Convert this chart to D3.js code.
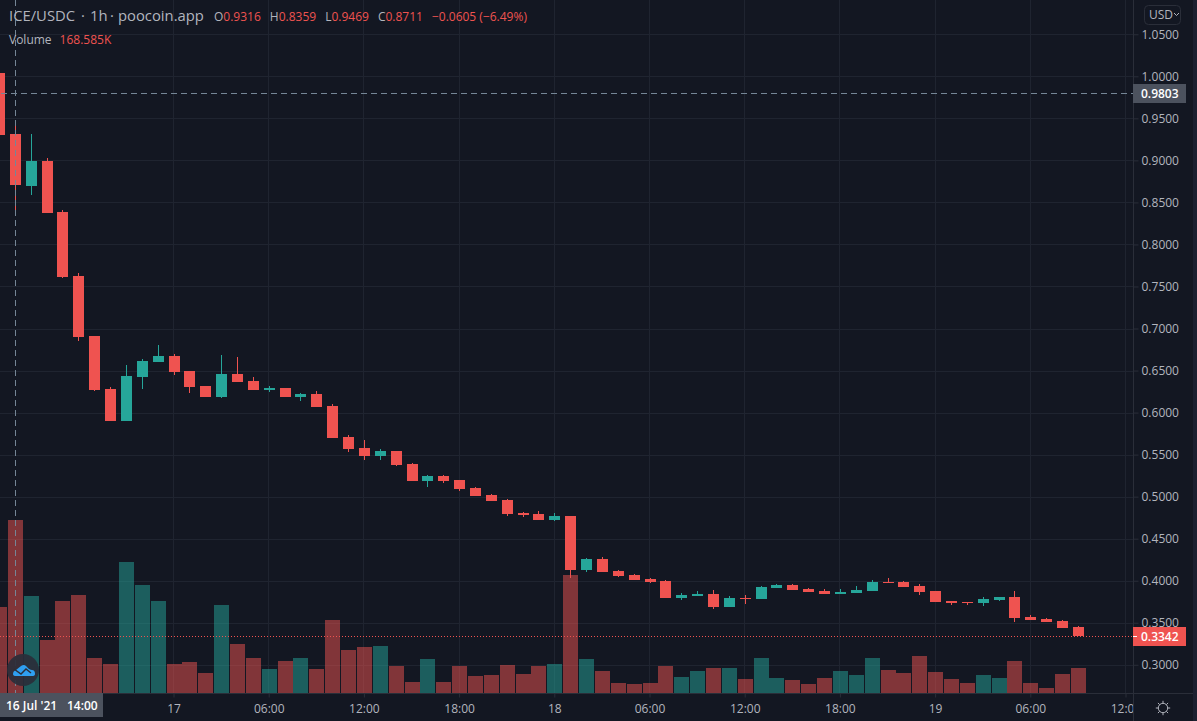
<!DOCTYPE html>
<html>
<head>
<meta charset="utf-8">
<script src="https://cdnjs.cloudflare.com/ajax/libs/d3/7.8.5/d3.min.js"></script>
<style>
  html, body { margin: 0; padding: 0; background: #131722; overflow: hidden; }
  svg { display: block; }
  text { font-family: "Open Sans", "Noto Sans", sans-serif; }
</style>
</head>
<body>
<svg width="1197" height="721"></svg>
<script>
// hourly candles, first one is 16 Jul 2021 13:00 UTC
var opens = [1.0036,.9316,.8692,.8989,.8382,.7621,.6907,.6277,.5896,.6420,.6598,.6669,.6491,.6313,.6182,.6455,.6372,.6265,.6289,.6182,.6217,.6075,.5706,.5575,.5480,.5539,.5385,.5183,.5242,.5195,.5099,.5016,.4957,.4802,.4790,.4719,.4766,.4124,.4255,.4112,.4065,.4017,.3993,.3791,.3815,.3838,.3684,.3791,.3779,.3910,.3946,.3898,.3874,.3838,.3850,.3874,.3981,.3981,.3934,.3874,.3755,.3743,.3731,.3767,.3803,.3565,.3541,.3517,.3446];
var highs = [1.0036,.9469,.9310,.9025,.8406,.7657,.6907,.6301,.6562,.6634,.6800,.6693,.6491,.6313,.6681,.6657,.6420,.6313,.6289,.6229,.6253,.6098,.5730,.5670,.5563,.5539,.5397,.5254,.5254,.5195,.5111,.5028,.4968,.4814,.4826,.4802,.4766,.4267,.4279,.4124,.4076,.4029,.4005,.3850,.3874,.3886,.3815,.3827,.3934,.3957,.3957,.3910,.3898,.3898,.3934,.4005,.4029,.3993,.3957,.3874,.3755,.3743,.3803,.3803,.3874,.3589,.3553,.3529,.3458];
var lows = [.9298,.8359,.8585,.8370,.7597,.6848,.6253,.5896,.5896,.6277,.6598,.6443,.6229,.6182,.6170,.6360,.6265,.6241,.6182,.6134,.6063,.5694,.5527,.5432,.5432,.5361,.5183,.5111,.5159,.5064,.5004,.4945,.4766,.4754,.4719,.4707,.4029,.4100,.4100,.4041,.4005,.3969,.3791,.3767,.3815,.3660,.3684,.3719,.3779,.3910,.3886,.3862,.3838,.3838,.3850,.3874,.3969,.3922,.3827,.3743,.3707,.3707,.3696,.3755,.3505,.3529,.3505,.3434,.3342];
var closes = [.9298,.8711,.8989,.8370,.7609,.6895,.6265,.5896,.6432,.6610,.6669,.6479,.6301,.6182,.6455,.6360,.6265,.6289,.6182,.6217,.6063,.5694,.5563,.5480,.5539,.5373,.5183,.5242,.5183,.5087,.5004,.4945,.4790,.4778,.4719,.4766,.4124,.4255,.4100,.4053,.4005,.3981,.3791,.3827,.3838,.3684,.3791,.3779,.3922,.3946,.3886,.3862,.3838,.3862,.3886,.3981,.3969,.3922,.3862,.3743,.3731,.3731,.3779,.3803,.3553,.3529,.3505,.3434,.3342];
var volumes = [83.8,168.585,94.5,51.6,89.7,95.5,34.1,28.3,127.7,105.2,89.7,28.3,30.2,19.5,85.8,47.8,34.1,23.4,31.2,34.1,23.4,71.1,41.9,44.8,45.8,26.3,10.7,33.1,10.7,26.3,16.6,17.5,27.3,18.5,26.3,28.3,115.0,33.1,21.4,9.7,8.8,9.7,26.3,15.6,21.4,24.4,24.4,13.6,34.1,14.6,12.7,8.8,14.6,21.4,17.5,34.1,22.4,19.5,36.1,20.5,13.6,9.7,17.5,14.6,31.2,9.7,4.9,18.5,24.4];

var priceTicks = [1.05,1,.95,.9,.85,.8,.75,.7,.65,.6,.55,.5,.45,.4,.35,.3];
var timeTicks = [0,6,12,18,24,30,36,42,48,54,60]; // hours after 17 Jul 00:00
var timeLabels = ["17","06:00","12:00","18:00","18","06:00","12:00","18:00","19","06:00","12:00"];

var crossHour = -10, crossPrice = 0.9803, lastPrice = 0.3342;

var red = "#ef5350", green = "#26a69a", gridColor = "#1f2430", axisColor = "#2a2e39", labelColor = "#b2b5be";

var svg = d3.select("svg");
var plotRight = 1134, plotBottom = 693;

var x = d3.scaleLinear().domain([0, 60]).range([173.5, 1125.5]);
var y = d3.scaleLinear().domain([1, 0.3]).range([76.3, 664.8]);
var v = d3.scaleLinear().domain([0, 168.585]).range([plotBottom, 520]);

function hourOf(i) { return i - 11; }
function isUp(i) { return closes[i] >= opens[i]; }
function cx(i) { return Math.round(x(hourOf(i))); }

svg.append("defs").append("clipPath").attr("id", "plot")
  .append("rect").attr("width", plotRight).attr("height", plotBottom);
svg.append("defs").append("clipPath").attr("id", "timeclip")
  .append("rect").attr("width", plotRight).attr("height", 721);

// grid
var grid = svg.append("g").attr("clip-path", "url(#plot)");
grid.selectAll(".gy").data(priceTicks).enter().append("line")
  .attr("x1", 0).attr("x2", plotRight)
  .attr("y1", function(d) { return Math.round(y(d)) + 0.5; })
  .attr("y2", function(d) { return Math.round(y(d)) + 0.5; })
  .attr("stroke", gridColor);
grid.selectAll(".gx").data(timeTicks).enter().append("line")
  .attr("x1", function(d) { return Math.floor(x(d)) + 0.5; })
  .attr("x2", function(d) { return Math.floor(x(d)) + 0.5; })
  .attr("y1", 0).attr("y2", plotBottom)
  .attr("stroke", gridColor);

var idx = d3.range(opens.length);

// volume
var plot = svg.append("g").attr("clip-path", "url(#plot)");
plot.selectAll(".vol").data(idx).enter().append("rect")
  .attr("x", function(i) { return cx(i) - 7; })
  .attr("width", 15)
  .attr("y", function(i) { return v(volumes[i]); })
  .attr("height", function(i) { return plotBottom - v(volumes[i]); })
  .attr("fill", function(i) { return isUp(i) ? green : red; })
  .attr("fill-opacity", 0.5)
  .attr("shape-rendering", "crispEdges");

// last price line goes over the volume, under the candles
plot.append("line")
  .attr("x1", 0).attr("x2", plotRight)
  .attr("y1", Math.round(y(lastPrice)) + 0.5).attr("y2", Math.round(y(lastPrice)) + 0.5)
  .attr("stroke", red).attr("stroke-dasharray", "1 2");

// candles
plot.selectAll(".wick").data(idx).enter().append("rect")
  .attr("x", function(i) { return cx(i); })
  .attr("width", 1)
  .attr("y", function(i) { return y(highs[i]); })
  .attr("height", function(i) { return y(lows[i]) - y(highs[i]); })
  .attr("fill", function(i) { return isUp(i) ? green : red; })
  .attr("shape-rendering", "crispEdges");
plot.selectAll(".body").data(idx).enter().append("rect")
  .attr("x", function(i) { return cx(i) - 5; })
  .attr("width", 11)
  .attr("y", function(i) { return y(Math.max(opens[i], closes[i])); })
  .attr("height", function(i) { return Math.max(1, Math.abs(y(opens[i]) - y(closes[i]))); })
  .attr("fill", function(i) { return isUp(i) ? green : red; })
  .attr("shape-rendering", "crispEdges");

// crosshair
var crossX = Math.round(x(crossHour)) + 0.5, crossY = Math.round(y(crossPrice)) + 0.5;
plot.append("line").attr("x1", crossX).attr("x2", crossX).attr("y1", 0).attr("y2", plotBottom)
  .attr("stroke", "#758696").attr("stroke-dasharray", "6 4");
plot.append("line").attr("x1", 1).attr("x2", plotRight).attr("y1", crossY).attr("y2", crossY)
  .attr("stroke", "#758696").attr("stroke-dasharray", "6 4");

// axes
var xAxis = d3.axisBottom(x).tickValues(timeTicks).tickSize(4).tickPadding(7)
  .tickFormat(function(d, i) { return timeLabels[i]; });
var xg = svg.append("g").attr("transform", "translate(0," + plotBottom + ".5)").attr("clip-path", "url(#timeclip)").call(xAxis);
xg.select(".domain").remove();
xg.selectAll("line").attr("stroke", axisColor);
xg.selectAll("text").attr("fill", labelColor).style("font-size", "12px");

var yAxis = d3.axisRight(y).tickValues(priceTicks).tickSize(5).tickPadding(3)
  .tickFormat(d3.format(".4f"));
var yg = svg.append("g").attr("transform", "translate(" + (plotRight - 0.5) + ",0)").call(yAxis);
yg.select(".domain").remove();
yg.selectAll("line").attr("stroke", axisColor);
yg.selectAll("text").attr("fill", labelColor).style("font-size", "12px");

svg.append("line").attr("x1", 0).attr("x2", 1193).attr("y1", plotBottom + 0.5).attr("y2", plotBottom + 0.5).attr("stroke", axisColor);
svg.append("line").attr("x1", plotRight - 0.5).attr("x2", plotRight - 0.5).attr("y1", 0).attr("y2", 721).attr("stroke", axisColor);

// price labels on the axis
function priceLabel(price, fill) {
  var py = Math.round(y(price));
  svg.append("rect").attr("x", plotRight - 1).attr("y", py - 9).attr("width", 53).attr("height", 19).attr("fill", fill);
  svg.append("text").attr("x", plotRight + 7).attr("y", py + 4.5).attr("fill", "#fff")
    .style("font-size", "12px").style("font-weight", 600).text(d3.format(".4f")(price));
}
priceLabel(crossPrice, "#4c525e");
priceLabel(lastPrice, red);
svg.append("line").attr("x1", plotRight - 1).attr("x2", plotRight + 3)
  .attr("y1", Math.round(y(lastPrice)) + 0.5).attr("y2", Math.round(y(lastPrice)) + 0.5).attr("stroke", "#fff");

// crosshair time label
svg.append("rect").attr("x", 0).attr("y", plotBottom).attr("width", 103).attr("height", 24).attr("fill", "#4c525e");
svg.append("text").attr("x", 6).attr("y", 710).attr("fill", "#fff").style("font-size", "12px").style("font-weight", 600).text("16 Jul '21");
svg.append("text").attr("x", 67).attr("y", 710).attr("fill", "#fff").style("font-size", "12px").style("font-weight", 600).text("14:00");

// legend
var titleParts = [["ICE/USDC", 9], ["·", 81], ["1h", 90], ["·", 110], ["poocoin.app", 118]];
var legend = svg.append("text").attr("y", 21).style("font-size", "14.8px").attr("fill", labelColor);
titleParts.forEach(function(d) {
  legend.append("tspan").attr("x", d[1]).text(d[0]);
});
var ohlc = [["O","0.9316"],["H","0.8359"],["L","0.9469"],["C","0.8711"]];
var legend2 = svg.append("text").attr("x", 214).attr("y", 21).style("font-size", "12px");
ohlc.forEach(function(d, i) {
  legend2.append("tspan").attr("fill", labelColor).attr("dx", i ? 9 : 0).text(d[0]);
  legend2.append("tspan").attr("fill", red).text(d[1]);
});
legend2.append("tspan").attr("fill", red).attr("dx", 9).text("−0.0605 (−6.49%)");
var legend3 = svg.append("text").attr("x", 9).attr("y", 44).style("font-size", "12px");
legend3.append("tspan").attr("fill", labelColor).text("Volume");
legend3.append("tspan").attr("fill", red).attr("dx", 8).text("168.585K");

// USD button
svg.append("rect").attr("x", 1144.5).attr("y", 5.5).attr("width", 36).attr("height", 19).attr("rx", 4)
  .attr("fill", "none").attr("stroke", axisColor);
svg.append("text").attr("x", 1149).attr("y", 19).attr("fill", labelColor).style("font-size", "12px").text("USD");
svg.append("path").attr("d", "M1174 13l2.5 2.5l2.5-2.5").attr("fill", "none").attr("stroke", labelColor);

// logo badge
svg.append("circle").attr("cx", 23).attr("cy", 670).attr("r", 16).attr("fill", "#2a2e39").attr("fill-opacity", 0.92);
svg.append("path").attr("d", "M13 674q0-3 3-4l5-4q3-2 5 0l3 3q2 1 3 1q3 0 3 4q0 2-3 2h-16q-3 0-3-2z").attr("fill", "#2f9ff0");
svg.append("path").attr("d", "M14 669l7 5l5-5l5 4").attr("fill", "none").attr("stroke", "#2a2e39").attr("stroke-width", 1.4);

// settings gear
var gear = svg.append("g").attr("transform", "translate(1163,708)").attr("stroke", labelColor).attr("fill", "none");
gear.append("circle").attr("r", 4.7);
d3.range(8).forEach(function(k) {
  var a = k * Math.PI / 4;
  gear.append("line").attr("x1", 4.7 * Math.cos(a)).attr("y1", 4.7 * Math.sin(a)).attr("x2", 7.2 * Math.cos(a)).attr("y2", 7.2 * Math.sin(a));
});

// strip on the right edge
svg.append("rect").attr("x", 1193).attr("y", 0).attr("width", 4).attr("height", 721).attr("fill", "#1c2030");
</script>
</body>
</html>
